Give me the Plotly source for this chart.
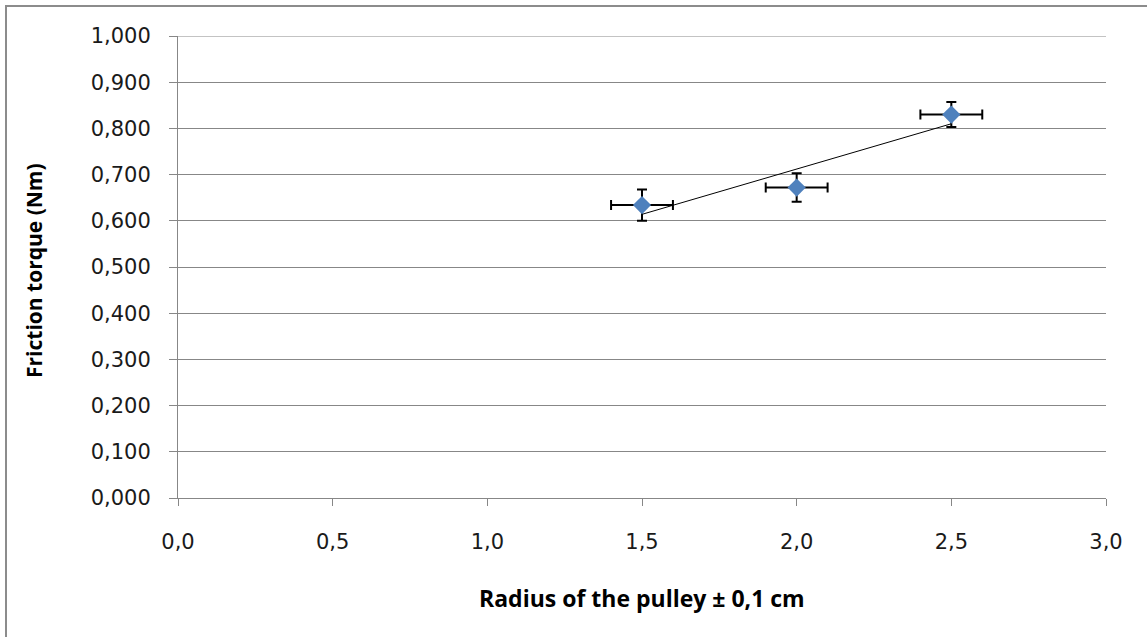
import numpy as np
import plotly.graph_objects as go

# Measured friction torque for each pulley radius
radius_cm = [1.5, 2.0, 2.5]
torque_nm = [0.634, 0.672, 0.830]
torque_err = [0.034, 0.031, 0.027]
radius_err = [0.1, 0.1, 0.1]

x_ticks = [0.0, 0.5, 1.0, 1.5, 2.0, 2.5, 3.0]
y_ticks = [0.0, 0.1, 0.2, 0.3, 0.4, 0.5, 0.6, 0.7, 0.8, 0.9, 1.0]

# Linear trendline through the measurements
slope, intercept = np.polyfit(radius_cm, torque_nm, 1)
trend_x = [min(radius_cm), max(radius_cm)]
trend_y = [slope * x + intercept for x in trend_x]

W, H = 1147, 637
L, R, T, B = 178, 41, 36, 139
pw, ph = W - L - R, H - T - B
GRID = "#878787"


def px_to_paper(px, py):
    return (px - L) / pw, (H - B - py) / ph


fig = go.Figure()

fig.add_trace(go.Scatter(
    x=trend_x, y=trend_y, mode="lines",
    line=dict(color="#000000", width=1),
    hoverinfo="skip", showlegend=False,
))

fig.add_trace(go.Scatter(
    x=radius_cm, y=torque_nm, mode="markers",
    marker=dict(symbol="diamond", size=14, color="#4F81BD",
                line=dict(width=0)),
    error_y=dict(type="data", array=torque_err, visible=True,
                 color="#000000", thickness=2, width=5),
    error_x=dict(type="data", array=radius_err, visible=True,
                 color="#000000", thickness=2, width=5),
    showlegend=False,
))

x0, y0 = px_to_paper(6, 6)
x1, y1 = px_to_paper(1152, 642)
xt, yt = px_to_paper(642, 598)
xy, yy = px_to_paper(34, 271)

fig.update_layout(
    width=W, height=H,
    margin=dict(l=L, r=R, t=T, b=B),
    paper_bgcolor="#FFFFFF", plot_bgcolor="#FFFFFF",
    separators=",.",
    font=dict(family="DejaVu Sans", size=21, color="#1A1A1A"),
    xaxis=dict(
        range=[0, 3], tickvals=x_ticks, tickformat=".1f",
        showgrid=False, zeroline=False,
        showline=True, linecolor=GRID, linewidth=1,
        ticks="outside", ticklen=7, tickcolor=GRID,
        ticklabelstandoff=18,
    ),
    yaxis=dict(
        range=[0, 1], tickvals=y_ticks, tickformat=".3f",
        showgrid=True, gridcolor=GRID, gridwidth=1,
        zeroline=False,
        showline=True, linecolor=GRID, linewidth=1,
        ticks="outside", ticklen=8, tickcolor=GRID,
        ticklabelstandoff=14,
    ),
    shapes=[
        dict(type="rect", xref="paper", yref="paper",
             x0=x0, y0=y1, x1=x1, y1=y0,
             line=dict(color="#8C8C8C", width=2),
             fillcolor="rgba(0,0,0,0)", layer="below"),
        # top gridline at the end of the value axis
        dict(type="line", xref="paper", yref="y",
             x0=0, x1=1, y0=max(y_ticks), y1=max(y_ticks),
             line=dict(color=GRID, width=1), layer="below"),
    ],
    annotations=[
        dict(text="Radius of the pulley ± 0,1 cm", xref="paper", yref="paper",
             x=xt, y=yt, showarrow=False, xanchor="center", yanchor="middle",
             font=dict(family="Open Sans", size=23, color="#000000",
                       weight="bold")),
        dict(text="Friction torque (Nm)", xref="paper", yref="paper",
             x=xy, y=yy, showarrow=False, xanchor="center", yanchor="middle",
             textangle=-90,
             font=dict(family="Open Sans", size=21, color="#000000",
                       weight="bold")),
    ],
)

fig.write_html("out.html")
